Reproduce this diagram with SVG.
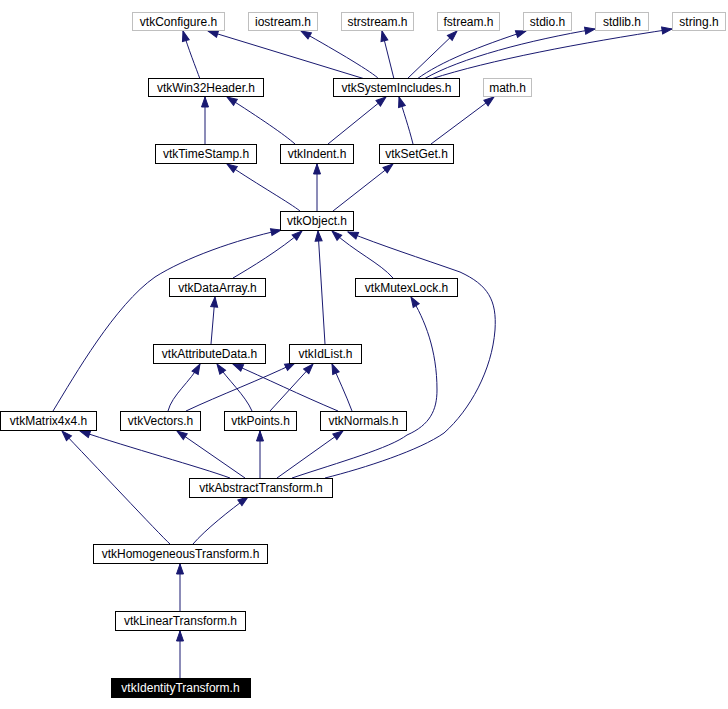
<svg xmlns="http://www.w3.org/2000/svg" width="728" height="709" viewBox="0 0 728 709">
<style>
.n rect{fill:#fff;stroke:#000;stroke-width:1}
.g rect{stroke:#bfbfbf}
.n text{font-family:"Liberation Sans",Arial,sans-serif;font-size:12px;text-anchor:middle;fill:#000}
.cur rect{fill:#000}
.cur text{fill:#fff}
#edges path{fill:none;stroke:#191970;stroke-width:1;marker-end:url(#a)}
</style>
<defs>
<marker id="a" markerUnits="userSpaceOnUse" markerWidth="11" markerHeight="8" refX="10" refY="3.5" orient="auto" overflow="visible">
<path d="M0,0 L10,3.5 L0,7 z" fill="#191970" stroke="#191970" stroke-width="1"/>
</marker>
</defs>
<rect width="728" height="709" fill="#fff"/>
<g id="edges">
<path d="M200,79 C196,68 188,48 183,31"/>
<path d="M365,79 L208,31"/>
<path d="M379,79 C372,72 340,53 301,31"/>
<path d="M394,79 L382,31"/>
<path d="M407,79 L457,31"/>
<path d="M417,79 C440,62 480,46 526,31"/>
<path d="M424,79 C460,58 530,40 595,29"/>
<path d="M431,79 C490,60 580,43 672,29"/>
<path d="M205,144 L205,97"/>
<path d="M295,144 C285,135 260,118 227,97"/>
<path d="M328,144 L386,97"/>
<path d="M413,144 C409,128 403,110 399,97"/>
<path d="M431,144 L494,97"/>
<path d="M300,211 C290,203 260,186 227,164"/>
<path d="M317,211 L317,164"/>
<path d="M333,211 L393,164"/>
<path d="M233,278 C250,268 280,250 302,231"/>
<path d="M325,344 L318,231"/>
<path d="M393,278 C380,263 355,252 332,231"/>
<path d="M53,411 C75,375 115,305 155,277 C185,258 235,240 281,230"/>
<path d="M325,478 C365,468 420,450 444,433 C470,410 492,370 495,330 C497,300 488,285 460,272 C420,258 380,245 348,232"/>
<path d="M292,478 C340,462 390,448 407,435 C430,425 437,410 437,390 C437,350 425,320 411,297"/>
<path d="M211,344 L215,297"/>
<path d="M168,411 C172,395 190,382 200,364"/>
<path d="M186,411 C220,395 260,380 295,363"/>
<path d="M252,411 C245,395 228,380 217,364"/>
<path d="M270,411 L313,364"/>
<path d="M338,411 C300,395 265,378 233,364"/>
<path d="M352,411 C346,395 338,378 332,364"/>
<path d="M230,478 C200,467 130,448 80,431"/>
<path d="M245,478 L177,431"/>
<path d="M260,478 L260,431"/>
<path d="M277,478 L343,431"/>
<path d="M170,544 C160,535 90,460 62,431"/>
<path d="M193,544 C205,530 230,510 248,497"/>
<path d="M180,611 L180,564"/>
<path d="M180,678 L180,631"/>
</g>
<g id="n_vtkConfigure" class="n g"><rect x="132.5" y="12.5" width="92" height="18"/><text x="178.5" y="25.5">vtkConfigure.h</text></g>
<g id="n_iostream" class="n g"><rect x="248.5" y="12.5" width="69" height="18"/><text x="283" y="25.5">iostream.h</text></g>
<g id="n_strstream" class="n g"><rect x="341.5" y="12.5" width="72" height="18"/><text x="377.5" y="25.5">strstream.h</text></g>
<g id="n_fstream" class="n g"><rect x="437.5" y="12.5" width="62" height="18"/><text x="468.5" y="25.5">fstream.h</text></g>
<g id="n_stdio" class="n g"><rect x="523.5" y="12.5" width="48" height="18"/><text x="547.5" y="25.5">stdio.h</text></g>
<g id="n_stdlib" class="n g"><rect x="595.5" y="12.5" width="53" height="18"/><text x="622" y="25.5">stdlib.h</text></g>
<g id="n_string" class="n g"><rect x="672.5" y="12.5" width="53" height="18"/><text x="699" y="25.5">string.h</text></g>
<g id="n_vtkWin32Header" class="n"><rect x="148.5" y="78.5" width="115" height="18"/><text x="206" y="91.5">vtkWin32Header.h</text></g>
<g id="n_vtkSystemIncludes" class="n"><rect x="333.5" y="78.5" width="126" height="18"/><text x="396.5" y="91.5">vtkSystemIncludes.h</text></g>
<g id="n_math" class="n g"><rect x="483.5" y="78.5" width="48" height="18"/><text x="507.5" y="91.5">math.h</text></g>
<g id="n_vtkTimeStamp" class="n"><rect x="155.5" y="144.5" width="101" height="19"/><text x="206" y="158">vtkTimeStamp.h</text></g>
<g id="n_vtkIndent" class="n"><rect x="280.5" y="144.5" width="73" height="19"/><text x="317" y="158">vtkIndent.h</text></g>
<g id="n_vtkSetGet" class="n"><rect x="379.5" y="144.5" width="74" height="19"/><text x="416.5" y="158">vtkSetGet.h</text></g>
<g id="n_vtkObject" class="n"><rect x="280.5" y="211.5" width="73" height="19"/><text x="317" y="225">vtkObject.h</text></g>
<g id="n_vtkDataArray" class="n"><rect x="169.5" y="278.5" width="96" height="18"/><text x="217.5" y="291.5">vtkDataArray.h</text></g>
<g id="n_vtkMutexLock" class="n"><rect x="355.5" y="278.5" width="102" height="18"/><text x="406.5" y="291.5">vtkMutexLock.h</text></g>
<g id="n_vtkAttributeData" class="n"><rect x="153.5" y="344.5" width="112" height="19"/><text x="209.5" y="358">vtkAttributeData.h</text></g>
<g id="n_vtkIdList" class="n"><rect x="289.5" y="344.5" width="72" height="19"/><text x="325.5" y="358">vtkIdList.h</text></g>
<g id="n_vtkMatrix4x4" class="n"><rect x="0.5" y="411.5" width="96" height="19"/><text x="48.5" y="425">vtkMatrix4x4.h</text></g>
<g id="n_vtkVectors" class="n"><rect x="120.5" y="411.5" width="80" height="19"/><text x="160.5" y="425">vtkVectors.h</text></g>
<g id="n_vtkPoints" class="n"><rect x="224.5" y="411.5" width="72" height="19"/><text x="260.5" y="425">vtkPoints.h</text></g>
<g id="n_vtkNormals" class="n"><rect x="320.5" y="411.5" width="86" height="19"/><text x="363.5" y="425">vtkNormals.h</text></g>
<g id="n_vtkAbstractTransform" class="n"><rect x="189.5" y="478.5" width="143" height="19"/><text x="261" y="492">vtkAbstractTransform.h</text></g>
<g id="n_vtkHomogeneousTransform" class="n"><rect x="93.5" y="544.5" width="174" height="19"/><text x="180.5" y="558">vtkHomogeneousTransform.h</text></g>
<g id="n_vtkLinearTransform" class="n"><rect x="115.5" y="611.5" width="130" height="19"/><text x="180.5" y="625">vtkLinearTransform.h</text></g>
<g id="n_vtkIdentityTransform" class="n cur"><rect x="111.5" y="678.5" width="139" height="19"/><text x="180.5" y="692">vtkIdentityTransform.h</text></g>
</svg>
